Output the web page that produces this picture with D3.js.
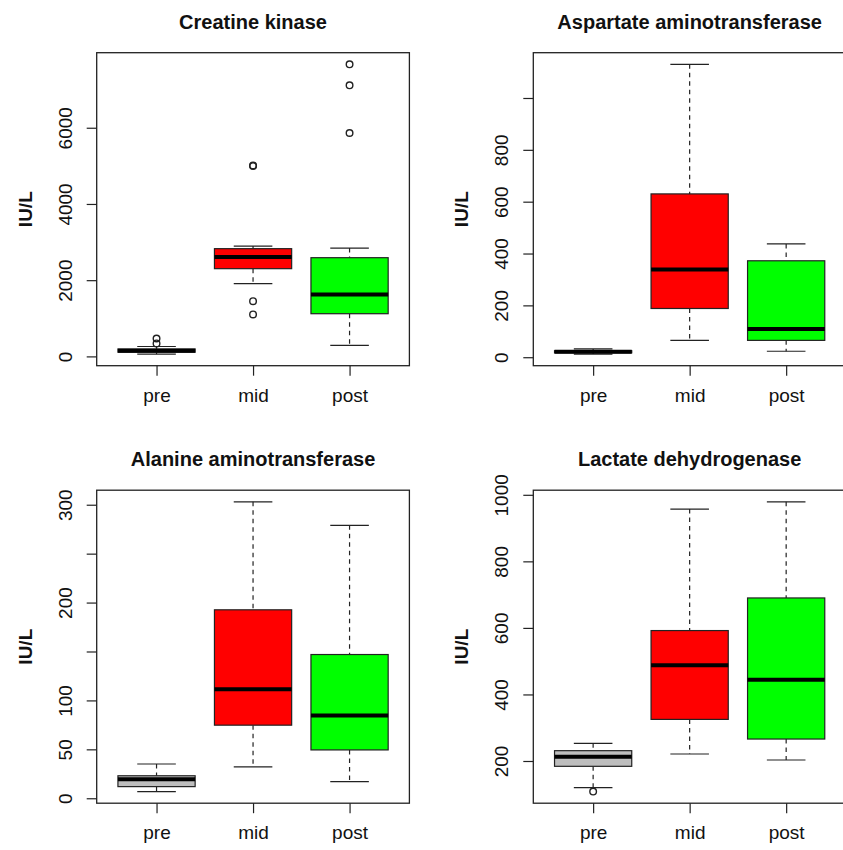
<!DOCTYPE html>
<html>
<head>
<meta charset="utf-8">
<script src="https://cdn.jsdelivr.net/npm/d3@7"></script>
<style>
  body { margin: 0; background: #fff; }
  svg { display: block; font-family: "Liberation Sans", Arial, Helvetica, sans-serif; }
</style>
</head>
<body>
<div id="chart"></div>
<script>
// groups on the x axis
const groups = ["pre", "mid", "post"];

// five-number summaries per group: [lower whisker, q1, median, q3, upper whisker]
const ckStats = [[60, 110, 150, 195, 260], [1908, 2302, 2607, 2827, 2895], [289, 1120, 1627, 2590, 2843]];
const ckOutliers = [[340, 470], [1100, 1450, 4995, 5010], [5862, 7114, 7665]];

const astStats = [[12, 17, 21, 25, 32], [65, 188, 338, 630, 1130], [23, 65, 109, 372, 437]];
const astOutliers = [[], [], []];

const altStats = [[6.8, 11.9, 19.4, 23, 35], [32, 74.7, 111.5, 192.6, 303], [17, 49.4, 84.5, 146.9, 279]];
const altOutliers = [[], [], []];

const ldhStats = [[120, 184, 213, 231, 253], [221, 325, 488, 592, 957], [203, 266, 444.5, 690, 979]];
const ldhOutliers = [[108], [], []];

// tick values and the labels R actually printed
const ckTicks = [0, 2000, 4000, 6000];
const ckTickLabels = ["0", "2000", "4000", "6000"];
const astTicks = [0, 200, 400, 600, 800, 1000];
const astTickLabels = ["0", "200", "400", "600", "800", ""];
const altTicks = [0, 50, 100, 150, 200, 250, 300];
const altTickLabels = ["0", "50", "100", "", "200", "", "300"];
const ldhTicks = [200, 400, 600, 800, 1000];
const ldhTickLabels = ["200", "400", "600", "800", "1000"];

const titles = ["Creatine kinase", "Aspartate aminotransferase", "Alanine aminotransferase", "Lactate dehydrogenase"];
const yLabel = "IU/L";

const fills = ["#bebebe", "#ff0000", "#00ff00"];

const W = 843, H = 850;
const colLeft = [96.7, 533.3], rowTop = [52.7, 490.2];
const pw = 312.7, ph = 313;

const panels = [
  {stats: ckStats, out: ckOutliers, ticks: ckTicks, labels: ckTickLabels, col: 0, row: 0},
  {stats: astStats, out: astOutliers, ticks: astTicks, labels: astTickLabels, col: 1, row: 0},
  {stats: altStats, out: altOutliers, ticks: altTicks, labels: altTickLabels, col: 0, row: 1},
  {stats: ldhStats, out: ldhOutliers, ticks: ldhTicks, labels: ldhTickLabels, col: 1, row: 1}
];

const svg = d3.select("#chart").append("svg")
  .attr("width", W).attr("height", H);

const ink = "#222";

panels.forEach((p, pi) => {
  const left = colLeft[p.col], top = rowTop[p.row];
  const g = svg.append("g").attr("transform", `translate(${left},${top})`);

  // R style range: data extent stretched by 4%
  const all = p.stats.flat().concat(p.out.flat());
  const lo = d3.min(all), hi = d3.max(all), pad = (hi - lo) * 0.04;
  const y = d3.scaleLinear().domain([lo - pad, hi + pad]).range([ph, 0]);
  const x = d3.scaleLinear().domain([0.38, 3.62]).range([0, pw]);
  const bw = x(1.8) - x(1);   // box width 0.8
  const cw = bw / 2;          // caps half as wide

  p.stats.forEach((s, i) => {
    const cx = x(i + 1);
    // dashed whiskers
    g.append("line").attr("x1", cx).attr("x2", cx).attr("y1", y(s[4])).attr("y2", y(s[3]))
      .attr("stroke", ink).attr("stroke-width", 1.2).attr("stroke-dasharray", "4.5,4");
    g.append("line").attr("x1", cx).attr("x2", cx).attr("y1", y(s[1])).attr("y2", y(s[0]))
      .attr("stroke", ink).attr("stroke-width", 1.2).attr("stroke-dasharray", "4.5,4");
    // caps
    [s[0], s[4]].forEach(v => {
      g.append("line").attr("x1", cx - cw / 2).attr("x2", cx + cw / 2).attr("y1", y(v)).attr("y2", y(v))
        .attr("stroke", ink).attr("stroke-width", 1.2);
    });
    // box
    g.append("rect").attr("x", cx - bw / 2).attr("width", bw)
      .attr("y", y(s[3])).attr("height", Math.max(0.5, y(s[1]) - y(s[3])))
      .attr("fill", fills[i]).attr("stroke", ink).attr("stroke-width", 1.2);
    // median
    g.append("line").attr("x1", cx - bw / 2).attr("x2", cx + bw / 2).attr("y1", y(s[2])).attr("y2", y(s[2]))
      .attr("stroke", "#000").attr("stroke-width", 4);
    // outliers
    g.selectAll(null).data(p.out[i]).enter().append("circle")
      .attr("cx", cx).attr("cy", d => y(d)).attr("r", 3.3)
      .attr("fill", "none").attr("stroke", ink).attr("stroke-width", 1.4);
  });

  // frame
  g.append("rect").attr("width", pw).attr("height", ph)
    .attr("fill", "none").attr("stroke", ink).attr("stroke-width", 1.3);

  // y axis
  const ya = g.append("g").call(d3.axisLeft(y).tickValues(p.ticks)
    .tickFormat((d, k) => p.labels[k]).tickSize(10));
  ya.select(".domain").remove();
  ya.selectAll("line").attr("stroke", ink).attr("stroke-width", 1.2);
  ya.selectAll("text").attr("transform", "rotate(-90)")
    .attr("x", 0).attr("y", -25).attr("dy", 0).attr("text-anchor", "middle")
    .attr("font-size", 19).attr("fill", "#111");

  // x axis
  const xa = g.append("g").attr("transform", `translate(0,${ph})`)
    .call(d3.axisBottom(x).tickValues([1, 2, 3]).tickFormat(d => groups[d - 1]).tickSize(10));
  xa.select(".domain").remove();
  xa.selectAll("line").attr("stroke", ink).attr("stroke-width", 1.2);
  xa.selectAll("text").attr("y", 36).attr("dy", 0)
    .attr("font-size", 19).attr("fill", "#111");

  // y label
  g.append("text").attr("transform", `translate(-65,${ph / 2}) rotate(-90)`)
    .attr("text-anchor", "middle").attr("font-size", 19).attr("font-weight", "bold")
    .attr("fill", "#111").text(yLabel);

  // title
  g.append("text").attr("x", pw / 2).attr("y", -24)
    .attr("text-anchor", "middle").attr("font-size", 20).attr("font-weight", "bold")
    .attr("fill", "#111").text(titles[pi]);
});
</script>
</body>
</html>
